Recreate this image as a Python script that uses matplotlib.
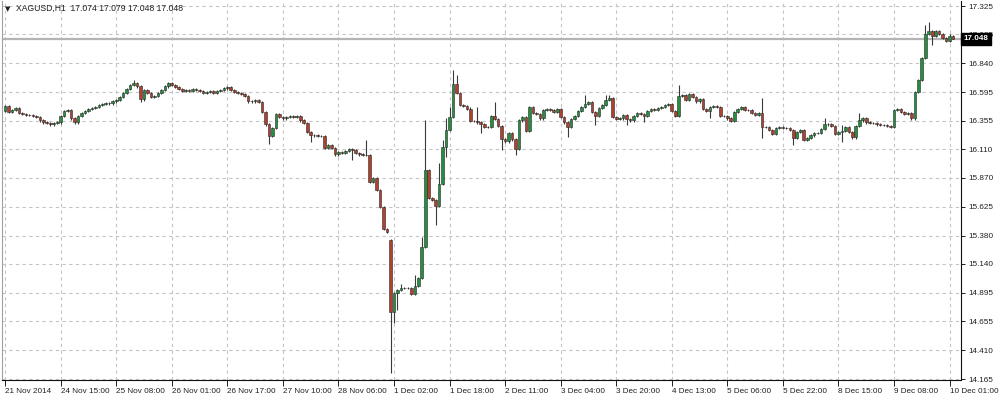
import numpy as np
import matplotlib
matplotlib.use("Agg")
import matplotlib.pyplot as plt

# XAGUSD H1 closes (one per bar)
closes = [
    16.478, 16.427, 16.444, 16.461, 16.419, 16.410, 16.402, 16.402, 16.393, 16.385,
    16.359, 16.342, 16.334, 16.325, 16.334, 16.342, 16.393, 16.436, 16.444, 16.376,
    16.342, 16.393, 16.419, 16.436, 16.453, 16.461, 16.470, 16.487, 16.495, 16.503,
    16.503, 16.520, 16.529, 16.554, 16.588, 16.622, 16.656, 16.673, 16.647, 16.537,
    16.614, 16.588, 16.554, 16.563, 16.588, 16.614, 16.647, 16.673, 16.656, 16.639,
    16.622, 16.605, 16.614, 16.605, 16.622, 16.614, 16.605, 16.588, 16.597, 16.605,
    16.588, 16.605, 16.614, 16.630, 16.639, 16.614, 16.597, 16.588, 16.580, 16.563,
    16.520, 16.520, 16.529, 16.512, 16.427, 16.325, 16.224, 16.292, 16.410, 16.385,
    16.376, 16.385, 16.393, 16.385, 16.393, 16.359, 16.334, 16.258, 16.232, 16.232,
    16.224, 16.224, 16.122, 16.148, 16.122, 16.071, 16.088, 16.080, 16.097, 16.114,
    16.105, 16.080, 16.071, 16.063, 16.063, 15.834, 15.868, 15.767, 15.623, 15.436,
    15.411, 14.733, 14.894, 14.919, 14.937, 14.937, 14.937, 14.885, 14.953, 15.021,
    15.284, 15.936, 15.699, 15.682, 15.631, 15.817, 16.131, 16.275, 16.385, 16.664,
    16.588, 16.487, 16.478, 16.453, 16.351, 16.351, 16.342, 16.325, 16.300, 16.300,
    16.393, 16.368, 16.309, 16.198, 16.181, 16.249, 16.198, 16.114, 16.359, 16.385,
    16.266, 16.470, 16.419, 16.410, 16.376, 16.444, 16.453, 16.444, 16.427, 16.453,
    16.385, 16.342, 16.300, 16.368, 16.393, 16.436, 16.470, 16.495, 16.512, 16.427,
    16.393, 16.461, 16.487, 16.529, 16.546, 16.385, 16.368, 16.376, 16.402, 16.368,
    16.359, 16.393, 16.419, 16.410, 16.393, 16.436, 16.453, 16.444, 16.461, 16.470,
    16.487, 16.495, 16.436, 16.393, 16.563, 16.571, 16.529, 16.580, 16.554, 16.520,
    16.537, 16.453, 16.436, 16.470, 16.478, 16.470, 16.393, 16.393, 16.376, 16.351,
    16.427, 16.453, 16.470, 16.444, 16.444, 16.419, 16.402, 16.419, 16.300, 16.300,
    16.275, 16.241, 16.292, 16.300, 16.292, 16.292, 16.275, 16.207, 16.258, 16.275,
    16.190, 16.207, 16.232, 16.249, 16.249, 16.283, 16.325, 16.325, 16.309, 16.241,
    16.258, 16.266, 16.300, 16.258, 16.215, 16.309, 16.359, 16.376, 16.342, 16.334,
    16.334, 16.325, 16.317, 16.317, 16.309, 16.300, 16.444, 16.453, 16.427, 16.410,
    16.419, 16.376, 16.597, 16.698, 16.885, 17.088, 17.113, 17.071, 17.113, 17.088,
    17.054, 17.029, 17.074, 17.048,
]
first_open = 16.440
# opens that gap away from the previous close
open_gaps = {111: 15.343}
# wick extremes that stand out from the bodies
high_marks = {37: 16.698, 104: 16.190, 114: 14.970, 118: 15.050, 120: 15.370,
              121: 16.359, 125: 15.995, 126: 16.190, 127: 16.376, 128: 16.470,
              129: 16.783, 130: 16.741, 134: 16.470, 136: 16.470, 141: 16.512,
              167: 16.571, 173: 16.571, 174: 16.571, 194: 16.656, 218: 16.546,
              236: 16.376, 241: 16.317, 246: 16.419, 265: 17.164, 266: 17.190,
              273: 17.079}
low_marks = {39: 16.512, 76: 16.156, 88: 16.173, 100: 16.021, 111: 14.216,
             112: 14.640, 113: 14.750, 124: 15.470, 127: 16.045, 137: 16.249,
             143: 16.105, 147: 16.063, 162: 16.215, 170: 16.317, 179: 16.317,
             184: 16.342, 203: 16.376, 218: 16.207, 227: 16.148, 241: 16.173,
             267: 16.995, 273: 17.048}

x_labels = ["21 Nov 2014", "24 Nov 15:00", "25 Nov 08:00", "26 Nov 01:00",
            "26 Nov 17:00", "27 Nov 10:00", "28 Nov 06:00", "1 Dec 02:00",
            "1 Dec 18:00", "2 Dec 11:00", "3 Dec 04:00", "3 Dec 20:00",
            "4 Dec 13:00", "5 Dec 06:00", "5 Dec 22:00", "8 Dec 15:00",
            "9 Dec 08:00", "10 Dec 01:00"]
bars_per_label = 16
y_ticks = [17.325, 17.085, 16.840, 16.595, 16.355, 16.110, 15.870, 15.625,
           15.380, 15.140, 14.895, 14.655, 14.410, 14.165]
bid = 17.048
title = "XAGUSD,H1  17.074 17.079 17.048 17.048"

plt.rcParams['font.family'] = ['Liberation Sans', 'DejaVu Sans']

c = np.array(closes)
n = len(c)
o = np.concatenate([[first_open], c[:-1]])
for i, v in open_gaps.items():
    o[i] = v
wick = 0.012
h = np.maximum(o, c) + wick
l = np.minimum(o, c) - wick
for i, v in high_marks.items():
    h[i] = v
for i, v in low_marks.items():
    l[i] = v
x = np.arange(n)

fig = plt.figure(figsize=(10, 4), dpi=100)
ax = fig.add_axes([0.002, 0.05, 0.959, 0.9475])

GRID = '#c4c4c4'
for k in range(len(x_labels)):
    ax.axvline(k * bars_per_label, color=GRID, lw=0.8, ls=(0, (3, 3)), zorder=0)
for t in y_ticks:
    ax.axhline(t, color=GRID, lw=0.8, ls=(0, (3, 3)), zorder=0)

ax.axhline(bid, color='#b4b4b4', lw=1.6, zorder=1)

up = c >= o
ax.vlines(x, l, h, color='#3a3a3a', lw=0.8, zorder=2)
body_lo = np.minimum(o, c)
body_h = np.maximum(np.abs(c - o), 0.003)
ax.bar(x[up], body_h[up], bottom=body_lo[up], width=0.76,
       color='#24903f', edgecolor='#2a2a2a', lw=0.4, zorder=3)
ax.bar(x[~up], body_h[~up], bottom=body_lo[~up], width=0.76,
       color='#b0412e', edgecolor='#2a2a2a', lw=0.4, zorder=3)

ax.set_xlim(-0.9, 275.3)
ax.set_ylim(14.157, 17.368)

ax.set_xticks([k * bars_per_label for k in range(len(x_labels))])
ax.set_xticklabels(x_labels, ha='left', fontsize=5.9, color='#202020')
ax.set_yticks(y_ticks)
ax.set_yticklabels([f"{t:.3f}" for t in y_ticks], fontsize=5.9, color='#202020')
ax.yaxis.tick_right()
ax.tick_params(axis='x', length=4, width=0.7, pad=1.5, color='#202020')
ax.tick_params(axis='y', length=3, width=0.7, pad=2, color='#202020')

ax.spines['top'].set_visible(False)
ax.spines['left'].set_color('#a0a0a0')
ax.spines['right'].set_color('#101010')
ax.spines['bottom'].set_color('#101010')

# current bid marker sits over the 17.085 label, as in the terminal
ax.text(1.003, bid, f"{bid:.3f}", transform=ax.get_yaxis_transform(),
        ha='left', va='center', fontsize=5.9, color='white', fontweight='bold',
        bbox=dict(boxstyle='square,pad=0.3', fc='black', ec='black'),
        clip_on=False, zorder=10)

fig.text(0.005, 0.978, "\u25BC", fontsize=5, color='#202020', va='center',
         family='DejaVu Sans')
fig.text(0.016, 0.978, title, fontsize=6.2, color='#202020', va='center')

fig.savefig('out.png', dpi=100, facecolor='white')
